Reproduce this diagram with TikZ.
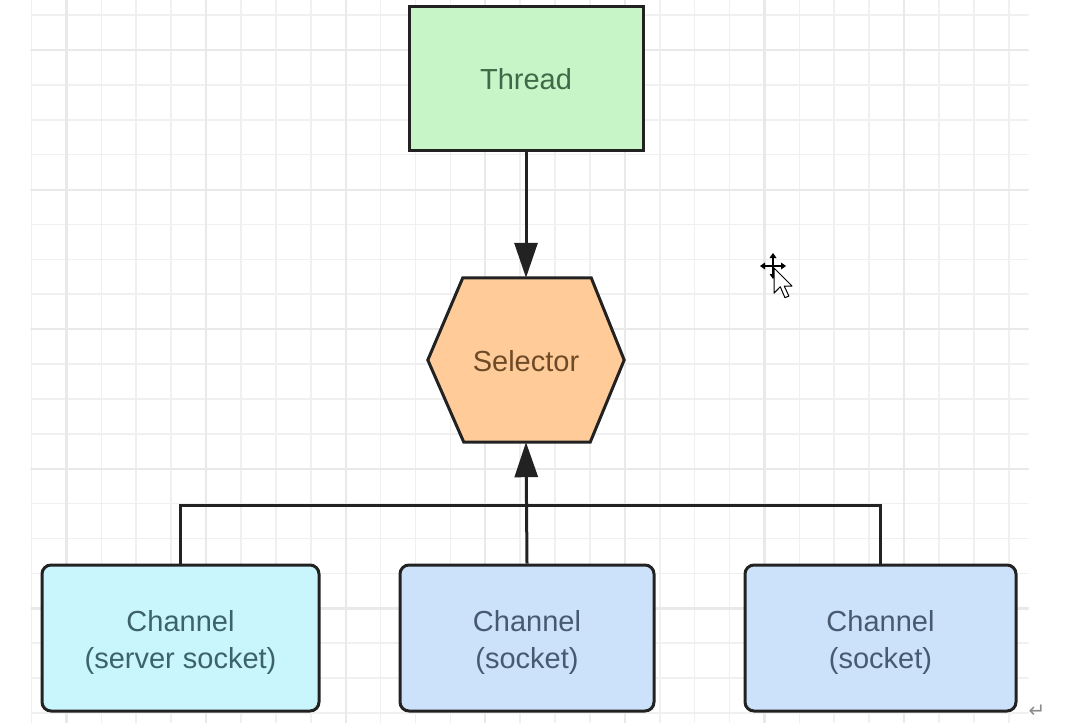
\documentclass[tikz,border=0pt]{standalone}
\usepackage{fontspec}
\setmainfont{Liberation Sans}
\newfontfamily\symfont{DejaVu Sans}
\usetikzlibrary{arrows.meta}

\definecolor{gridminor}{HTML}{F0F0F0}
\definecolor{gridmajor}{HTML}{E9E9E9}
\definecolor{threadfill}{HTML}{C8F5C8}
\definecolor{threadtext}{HTML}{3E6A47}
\definecolor{selfill}{HTML}{FFCC99}
\definecolor{seltext}{HTML}{6E4A26}
\definecolor{srvfill}{HTML}{C9F5FC}
\definecolor{srvtext}{HTML}{3C626C}
\definecolor{sockfill}{HTML}{CCE2FA}
\definecolor{socktext}{HTML}{485A70}
\definecolor{edge}{HTML}{222222}

\tikzset{
  minorline/.style={gridminor, line width=1.6pt},
  majorline/.style={gridmajor, line width=2.2pt},
  labeltext/.style={align=center, font=\fontsize{29}{37}\selectfont, inner sep=0pt},
  box/.style={draw=edge, line width=3pt, inner sep=0pt},
  chanbox/.style={box, rounded corners=9pt, minimum height=146pt},
  wire/.style={draw=edge, line width=3pt},
  arr/.style={wire, -{Triangle[length=35pt,width=23pt]}},
}

\begin{document}
\begin{tikzpicture}[x=1pt,y=-1pt]
  \useasboundingbox (0,0) rectangle (1091,723);
  \fill[white] (0,0) rectangle (1091,723);

  % background grid
  \begin{scope}
    \clip (30.5,0) rectangle (1028.5,723);
    \foreach \i in {0,...,28}
      \draw[minorline] ({31.5+34.9*\i},0) -- ++(0,723);
    \foreach \j in {0,...,20}
      \draw[minorline] (30,{15+34.9*\j}) -- (1030,{15+34.9*\j});
    \foreach \i in {0,...,6}
      \draw[majorline] ({66.4+139.6*\i},0) -- ++(0,723);
    \foreach \j in {0,...,4}
      \draw[majorline] (30,{50+139.6*\j}) -- (1030,{50+139.6*\j});
  \end{scope}

  % nodes
  \node[box, fill=threadfill, minimum width=234pt, minimum height=144pt]
    (thr) at (526,78) {};
  \node[labeltext, text=threadtext] (thrlabel) at ([yshift=-1.5pt]thr.center) {Thread};

  \node[inner sep=0pt, minimum width=196pt, minimum height=164pt] (sel) at (526,360) {};
  \filldraw[fill=selfill, draw=edge, line width=3pt, line join=miter]
    (sel.west) -- ([xshift=35pt]sel.north west) -- ([xshift=-33pt]sel.north east)
    -- (sel.east) -- ([xshift=-34pt]sel.south east) -- ([xshift=36pt]sel.south west) -- cycle;
  \node[labeltext, text=seltext] (sellabel) at ([yshift=-1pt]sel.center) {Selector};

  \node[chanbox, fill=srvfill, minimum width=277pt] (ch1) at (180.5,638) {};
  \node[chanbox, fill=sockfill, minimum width=254pt] (ch2) at (527,638) {};
  \node[chanbox, fill=sockfill, minimum width=271pt] (ch3) at (880.5,638) {};
  \node[labeltext, text=srvtext] (ch1label) at ([yshift=-4pt]ch1.center) {Channel\\(server socket)};
  \node[labeltext, text=socktext] (ch2label) at ([yshift=-4pt]ch2.center) {Channel\\(socket)};
  \node[labeltext, text=socktext] (ch3label) at ([yshift=-4pt]ch3.center) {Channel\\(socket)};

  % connectors
  \coordinate (bus) at (527,505);
  \draw[arr] (thr.south) -- (sel.north);
  \draw[wire] (ch1.north) |- (bus) -| (ch3.north);
  \draw[arr] (ch2.north) -- (sel.south);

  % mouse cursor with move cross
  \begin{scope}[shift={(773,266)}, line width=1.2pt]
    \draw (-9,0) -- (9,0) (0,-9) -- (0,9);
    \fill (-13,0) -- (-8,-3.5) -- (-8,3.5) -- cycle;
    \fill (13,0) -- (8,-3.5) -- (8,3.5) -- cycle;
    \fill (0,-13) -- (-3.5,-8) -- (3.5,-8) -- cycle;
    \fill (0,13) -- (-3.5,8) -- (3.5,8) -- cycle;
  \end{scope}
  \filldraw[fill=white, draw=black, line width=1pt, line join=round, shift={(774,268)}, scale=1.2]
    (0,0) -- (0,21) -- (5.2,15.6) -- (9.1,24.7) -- (12.4,23.4) -- (8.5,15) -- (15,15) -- cycle;

  % paragraph mark
  \node[text=black!45, font=\symfont\fontsize{20}{20}\selectfont, inner sep=0pt]
    (retmark) at (1037,711) {↵};
\end{tikzpicture}
\end{document}
